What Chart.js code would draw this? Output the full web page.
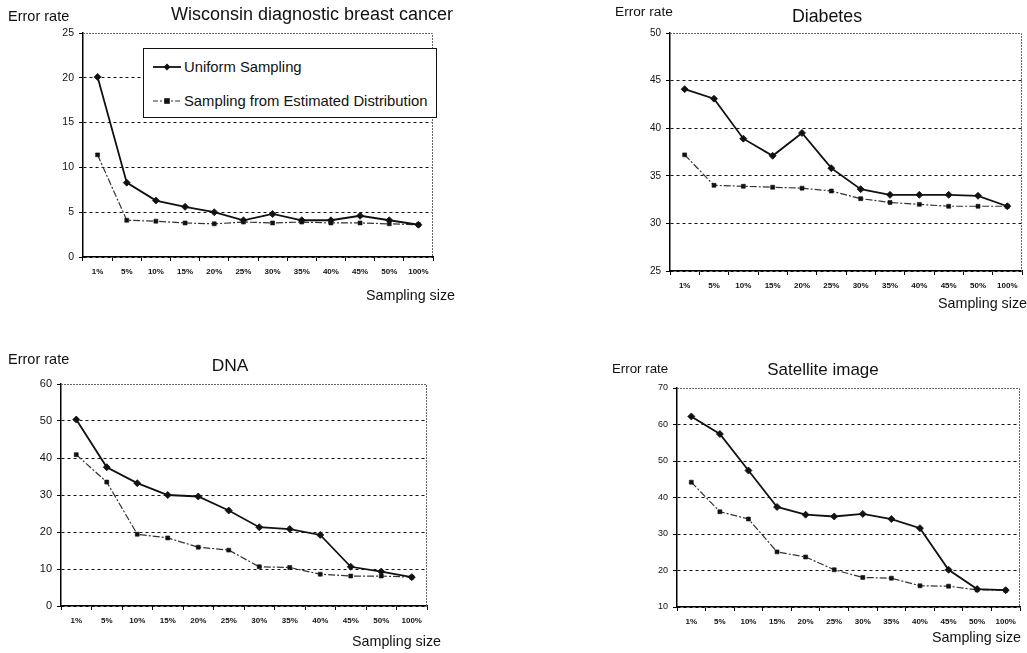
<!DOCTYPE html>
<html><head><meta charset="utf-8">
<script src="https://cdn.jsdelivr.net/npm/chart.js@4.4.1/dist/chart.umd.min.js"></script>
<style>
body{margin:0;background:#fff;width:1027px;height:653px;overflow:hidden;position:relative;font-family:"Liberation Sans",Arial,sans-serif;color:#111}
.lbl{position:absolute;white-space:nowrap;line-height:1;transform:translateY(-50%)}
.ttl{position:absolute;white-space:nowrap;line-height:1;transform:translate(-50%,-50%)}
canvas{position:absolute}
.legend{position:absolute;background:#fff;border:1.5px solid #111;box-sizing:border-box}
.legrow{position:absolute;left:9px;display:flex;align-items:center;font-size:14.8px;white-space:nowrap;transform:translateY(-50%)}
.legrow svg{margin-right:3px}
</style></head><body>
<script>
// ---- data ----
const categories = ['1%','5%','10%','15%','20%','25%','30%','35%','40%','45%','50%','100%'];
const seriesNames = ['Uniform Sampling','Sampling from Estimated Distribution'];

const wdbcTitle = 'Wisconsin diagnostic breast cancer';
const wdbcUniform   = [20.1, 8.3, 6.3, 5.6, 5.0, 4.1, 4.8, 4.1, 4.1, 4.6, 4.1, 3.6];
const wdbcEstimated = [11.4, 4.1, 4.0, 3.8, 3.7, 3.9, 3.8, 3.9, 3.8, 3.8, 3.7, 3.6];
const wdbcTicks = [0, 5, 10, 15, 20, 25];

const diabTitle = 'Diabetes';
const diabUniform   = [44.1, 43.1, 38.9, 37.1, 39.5, 35.8, 33.6, 33.0, 33.0, 33.0, 32.9, 31.8];
const diabEstimated = [37.2, 34.0, 33.9, 33.8, 33.7, 33.4, 32.6, 32.2, 32.0, 31.8, 31.8, 31.8];
const diabTicks = [25, 30, 35, 40, 45, 50];

const dnaTitle = 'DNA';
const dnaUniform   = [50.4, 37.5, 33.2, 30.0, 29.6, 25.8, 21.3, 20.8, 19.2, 10.6, 9.3, 7.8];
const dnaEstimated = [40.9, 33.5, 19.4, 18.4, 15.9, 15.1, 10.6, 10.4, 8.6, 8.1, 8.1, 7.8];
const dnaTicks = [0, 10, 20, 30, 40, 50, 60];

const satTitle = 'Satellite image';
const satUniform   = [62.2, 57.4, 47.4, 37.4, 35.3, 34.8, 35.5, 34.1, 31.6, 20.2, 14.9, 14.6];
const satEstimated = [44.2, 36.1, 34.1, 25.1, 23.7, 20.2, 18.1, 17.9, 15.8, 15.7, 14.7, 14.6];
const satTicks = [10, 20, 30, 40, 50, 60, 70];

const yLabel = 'Error rate';
const xLabel = 'Sampling size';

// ---- rendering ----
const framePlugin = {
  id: 'frame',
  beforeDatasetsDraw(chart) {
    const {ctx, chartArea: a} = chart;
    ctx.save();
    ctx.strokeStyle = '#666';
    ctx.lineWidth = 1;
    ctx.setLineDash([2, 1]);
    ctx.beginPath();
    ctx.moveTo(a.left, a.top + 0.5);
    ctx.lineTo(a.right - 0.5, a.top + 0.5);
    ctx.lineTo(a.right - 0.5, a.bottom);
    ctx.stroke();
    ctx.restore();
  }
};

function addText(cls, text, x, y, size) {
  const d = document.createElement('div');
  d.className = cls;
  d.textContent = text;
  d.style.left = x + 'px';
  d.style.top = y + 'px';
  d.style.fontSize = size + 'px';
  document.body.appendChild(d);
}

function makeChart(c) {
  const padL = 50, padT = 15, padR = 8, padB = 30;
  const w = c.R - c.L + padL + padR, h = c.B - c.T + padT + padB;
  const cv = document.createElement('canvas');
  cv.width = w; cv.height = h;
  cv.style.left = (c.L - padL) + 'px';
  cv.style.top = (c.T - padT) + 'px';
  cv.style.width = w + 'px';
  cv.style.height = h + 'px';
  document.body.appendChild(cv);
  const ticks = c.ticks;
  const yMin = ticks[0], yMax = ticks[ticks.length - 1];
  new Chart(cv, {
    type: 'line',
    data: {
      labels: categories,
      datasets: [
        {label: seriesNames[0], data: c.u, borderColor: '#111', borderWidth: 1.8,
         pointStyle: 'rectRot', pointRadius: 3.5, pointBackgroundColor: '#111', pointBorderColor: '#111',
         pointBorderWidth: 0.8, tension: 0, fill: false},
        {label: seriesNames[1], data: c.e, borderColor: '#333', borderWidth: 1.2,
         borderDash: [7, 2, 2, 2],
         pointStyle: 'rect', pointRadius: 2.8, pointBackgroundColor: '#111', pointBorderColor: '#111',
         pointBorderWidth: 0.6, tension: 0, fill: false}
      ]
    },
    options: {
      responsive: false, animation: false, devicePixelRatio: 1,
      layout: {autoPadding: false, padding: {left: 0, top: padT, right: padR, bottom: 0}},
      plugins: {legend: {display: false}, title: {display: false}, tooltip: {enabled: false}},
      scales: {
        x: {
          type: 'category', offset: true,
          grid: {offset: true, drawOnChartArea: false, drawTicks: true, tickLength: 4, color: '#000', tickColor: '#000'},
          border: {color: '#000', width: 1.5},
          ticks: {font: {family: '"Liberation Sans", Arial', size: 8, weight: 'bold'}, color: '#111', padding: 6,
                  maxRotation: 0, minRotation: 0, autoSkip: false},
          afterFit(s) { s.height = padB; }
        },
        y: {
          min: yMin, max: yMax,
          afterBuildTicks(s) { s.ticks = ticks.map(v => ({value: v})); },
          grid: {color: ctx => (ctx.tick && ctx.tick.value === yMax) ? 'transparent' : '#111',
                 tickColor: '#000', tickLength: 4, lineWidth: 1},
          border: {dash: [3, 3], color: '#000', width: 1.5},
          ticks: {font: {family: '"Liberation Sans", Arial', size: c.yFont}, color: '#111', padding: 5},
          afterFit(s) { s.width = padL; }
        }
      }
    },
    plugins: [framePlugin]
  });
}

// chart 1
makeChart({L: 83, T: 33, R: 433, B: 257, ticks: wdbcTicks, u: wdbcUniform, e: wdbcEstimated, yFont: 10.5});
addText('ttl', wdbcTitle, 312, 14, 18);
addText('lbl', yLabel, 8, 16, 14.5);
addText('lbl', xLabel, 366, 295, 14.3);

// chart 2
makeChart({L: 670, T: 33, R: 1022, B: 271, ticks: diabTicks, u: diabUniform, e: diabEstimated, yFont: 10});
addText('ttl', diabTitle, 827, 17, 17.8);
addText('lbl', yLabel, 615, 12, 13.7);
addText('lbl', xLabel, 938, 303, 14.3);

// chart 3
makeChart({L: 61, T: 384, R: 427, B: 606, ticks: dnaTicks, u: dnaUniform, e: dnaEstimated, yFont: 11});
addText('ttl', dnaTitle, 230, 366, 17.4);
addText('lbl', yLabel, 8, 359, 14.5);
addText('lbl', xLabel, 352, 641, 14.3);

// chart 4
makeChart({L: 677, T: 388, R: 1020, B: 607, ticks: satTicks, u: satUniform, e: satEstimated, yFont: 9});
addText('ttl', satTitle, 823, 369, 17);
addText('lbl', yLabel, 612, 369, 13.3);
addText('lbl', xLabel, 932, 637, 14.3);

// legend (chart 1)
(function() {
  const lg = document.createElement('div');
  lg.className = 'legend';
  lg.style.left = '143px'; lg.style.top = '48px'; lg.style.width = '294px'; lg.style.height = '70px';
  const samples = [
    '<svg width="28" height="10"><line x1="0" y1="5" x2="28" y2="5" stroke="#111" stroke-width="1.8"/><polygon points="14,1.5 17.5,5 14,8.5 10.5,5" fill="#111"/></svg>',
    '<svg width="28" height="10"><line x1="0" y1="5" x2="28" y2="5" stroke="#333" stroke-width="1.2" stroke-dasharray="5 2 2 2"/><rect x="11.2" y="2.2" width="5.6" height="5.6" fill="#111"/></svg>'
  ];
  const ys = [18, 52];
  seriesNames.forEach((n, i) => {
    const r = document.createElement('div');
    r.className = 'legrow';
    r.style.top = ys[i] + 'px';
    r.innerHTML = samples[i];
    const s = document.createElement('span');
    s.textContent = n;
    r.appendChild(s);
    lg.appendChild(r);
  });
  document.body.appendChild(lg);
})();
</script>
</body></html>
